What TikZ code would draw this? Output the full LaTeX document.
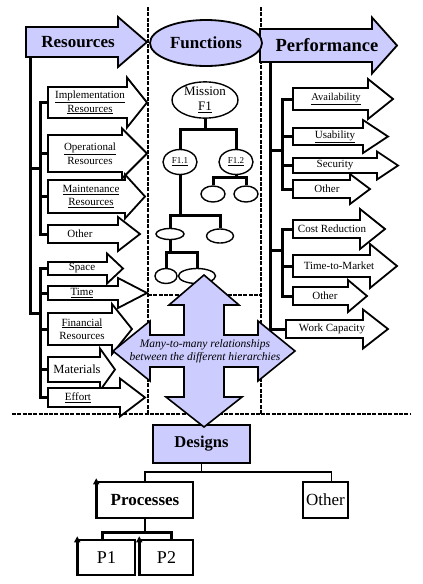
\documentclass[tikz,border=0pt]{standalone}
\usepackage{fontspec}
\setmainfont{Liberation Serif}
\usetikzlibrary{arrows.meta,shapes.geometric}
\definecolor{lav}{RGB}{204,204,255}
\tikzset{
  abox/.style={draw=black,fill=white,line width=1.8pt,line join=miter},
  hbox/.style={draw=black,fill=lav,line width=1.8pt,line join=miter},
  lbl/.style={font=\fontsize{11}{13.5}\selectfont,align=center,inner sep=0pt},
  hdr/.style={font=\bfseries\fontsize{17}{20}\selectfont,inner sep=0pt},
  tree/.style={line width=3pt},
  conn/.style={line width=1.6pt},
  dots/.style={line width=2pt,dash pattern=on 4pt off 1.3pt},
  fell/.style={ellipse,draw,line width=1.4pt,fill=white,inner sep=0pt},
  dbox/.style={draw,line width=1.5pt,fill=white,inner sep=0pt},
  uparr/.style={line width=2.2pt,-{Triangle[length=6pt,width=6pt]}},
}
% name, x0, ytop, ybot, xbase, head half height, xtip, text x, text
\newcommand\barr[9]{%
  \pgfmathsetmacro\ymid{(#3+#4)/2}%
  \draw[abox] (#2,#3) -- (#5,#3) -- (#5,\ymid-#6) -- (#7,\ymid) -- (#5,\ymid+#6) -- (#5,#4) -- (#2,#4) -- cycle;
  \coordinate (#1) at (#2,\ymid);
  \node[lbl] (#1-t) at (#8,\ymid) {#9};
}
\begin{document}
\begin{tikzpicture}[x=1pt,y=-1pt]
\useasboundingbox (0,0) rectangle (423,584);
\fill[white] (0,0) rectangle (423,584);

% dotted separators
\draw[dots] (148,7) -- (148,414);
\draw[dots] (261,7) -- (261,414);
\draw[dots] (148,295) -- (261,295);
\draw[dots] (12,414) -- (410,414);

% ---------- Resources ----------
\draw[hbox] (26,27) -- (118,27) -- (118,17) -- (147,42) -- (118,67) -- (118,57) -- (26,57) -- cycle;
\node[hdr] (res) at (78,42) {Resources};
\coordinate (rb) at (30,57);

\barr{r1}{48}{87}{118}{127}{25}{147}{90}{\underline{Implementation}\\\underline{Resources}}
\barr{r2}{48}{135}{172}{122}{25}{147}{90}{\underline{Operational}\\Resources}
\barr{r3}{48}{180}{213}{125}{22}{145}{91}{\underline{Maintenance}\\\underline{Resources}}
\barr{r4}{48}{225}{243}{118}{17}{140}{80}{Other}
\barr{r5}{48}{262}{275}{107}{15}{123}{82}{Space}
\barr{r6}{48}{286}{300}{118}{15}{147}{82}{\underline{Time}}
\barr{r7}{48}{313}{345}{112}{25}{132}{82}{\underline{Financial}\\Resources}
\barr{r8}{48}{357}{382}{100}{21}{115}{77}{\fontsize{12.5}{14}\selectfont Materials}
\barr{r9}{48}{388}{407}{120}{19}{145}{78}{\underline{Effort}}

\coordinate (j1) at (40,168);
\coordinate (j2) at (40,313);
\draw[tree] (rb) |- (j2);
\draw[tree] (rb |- j1) -- (j1);
\draw[tree] (r1) -| (j1) |- (r4);
\draw[tree] (r2) -- (r2 -| j1);
\draw[tree] (r3) -- (r3 -| j1);
\draw[tree] (r5) -| (j2) |- (r9);
\draw[tree] (r6) -- (r6 -| j2);
\draw[tree] (r7) -- (r7 -| j2);
\draw[tree] (r8) -- (r8 -| j2);

% ---------- Performance ----------
\draw[hbox] (260,29) -- (372,29) -- (372,17.5) -- (397,45.5) -- (372,73.5) -- (372,62) -- (260,62) -- cycle;
\node[hdr,font=\bfseries\fontsize{18.5}{20}\selectfont] (perf) at (327,45.5) {Performance};
\coordinate (pb) at (270,62);

\barr{p1}{293}{88}{110}{368}{20}{393}{336}{\fontsize{10.5}{12}\selectfont\underline{Availability}}
\barr{p2}{293}{128}{145}{363}{16.5}{388}{335}{\underline{Usability}}
\barr{p3}{293}{158}{173}{377}{14}{398}{335}{Security}
\barr{p4}{293}{180}{198}{350}{15}{370}{327}{Other}
\barr{p5}{293}{220}{238}{360}{20}{385}{332}{Cost Reduction}
\barr{p6}{293}{255}{277}{370}{22}{397}{339}{Time-to-Market}
\barr{p7}{293}{287}{305}{348}{16}{367}{325}{Other}
\barr{p8}{286}{320}{338}{363}{19.5}{388}{332}{Work Capacity}

\coordinate (k1) at (282,150);
\coordinate (k2) at (282,250);
\draw[tree] (pb) |- (p8);
\draw[tree] (pb |- k1) -- (k1);
\draw[tree] (pb |- k2) -- (k2);
\draw[tree] (p1) -| (k1) |- (p4);
\draw[tree] (p2) -- (p2 -| k1);
\draw[tree] (p3) -- (p3 -| k1);
\draw[tree] (p5) -| (k2) |- (p7);
\draw[tree] (p6) -- (p6 -| k2);

% ---------- Functions ----------
\node[ellipse,draw,line width=1.8pt,fill=lav,minimum width=112pt,minimum height=46pt,inner sep=0pt,
      font=\bfseries\fontsize{17}{20}\selectfont] (func) at (206,43) {Functions};

\node[fell,minimum width=66pt,minimum height=34pt,align=center,font=\fontsize{13}{15}\selectfont] (mis) at (205,100) {Mission\\\underline{F1}};
\node[fell,minimum width=34pt,minimum height=25pt,font=\fontsize{9}{10}\selectfont] (f11) at (180,162) {\underline{F1.1}};
\node[fell,minimum width=34pt,minimum height=25pt,font=\fontsize{9}{10}\selectfont] (f12) at (236,162) {\underline{F1.2}};
\node[fell,minimum width=24pt,minimum height=16pt] (e1) at (213,194) {};
\node[fell,minimum width=24pt,minimum height=16pt] (e2) at (246,194) {};
\node[fell,minimum width=28pt,minimum height=11pt] (e3) at (170,234) {};
\node[fell,minimum width=27pt,minimum height=14pt] (e4) at (220,236) {};
\node[fell,minimum width=22pt,minimum height=15pt] (e5) at (166,276) {};
\node[fell,minimum width=37pt,minimum height=15pt] (e6) at (197,276) {};

\coordinate (t1) at (205,129);
\coordinate (t2) at (180,215);
\coordinate (t3) at (236,177);
\coordinate (t4) at (170,252);
\draw[tree] (mis.south) -- (t1);
\draw[tree] (f11.north) |- (t1) -| (f12.north);
\draw[tree] (f11.south) -- (t2);
\draw[tree] (e3.north) |- (t2) -| (e4.north);
\draw[tree] (f12.south) -- (t3);
\draw[tree] (e1.north) |- (t3) -| (e2.north);
\draw[tree] (e3.south) -- (t4);
\draw[tree] (e5.north) |- (t4) -| (e6.north);

% ---------- Designs ----------
\node[dbox,fill=lav,minimum width=97pt,minimum height=38pt,font=\bfseries\fontsize{16.5}{20}\selectfont] (des) at (201.5,444) {Designs};
\node[dbox,minimum width=96pt,minimum height=36pt,font=\bfseries\fontsize{17}{20}\selectfont] (proc) at (145,500) {Processes};
\node[dbox,minimum width=45pt,minimum height=36pt,font=\fontsize{17}{20}\selectfont] (oth) at (325.5,500) {Other};
\node[dbox,minimum width=57pt,minimum height=35pt,font=\fontsize{18}{20}\selectfont] (pp1) at (106.5,557.5) {P1};
\node[dbox,minimum width=53pt,minimum height=35pt,font=\fontsize{18}{20}\selectfont] (pp2) at (166.5,557.5) {P2};

\coordinate (dj) at (201.5,472);
\coordinate (pj) at (145,532);
\draw[conn] (des.south) -- (dj);
\draw[conn] (proc.north) |- (dj) -| ([xshift=6pt]oth.north);
\draw[conn] (proc.south) -- (pj);
\draw[tree] ([xshift=-4pt]pp1.north) |- (pj) -| ([xshift=5pt]pp2.north);
\draw[uparr] (proc.south west) -- ([yshift=3pt]proc.north west);
\draw[uparr] (pp1.south west) -- ([yshift=3pt]pp1.north west);
\draw[uparr] (pp2.south west) -- ([yshift=3pt]pp2.north west);

% ---------- many-to-many arrow ----------
\draw[hbox,line width=1.6pt] (204,275) -- (239,305) -- (224,305) -- (224,335) -- (258,335) -- (258,321) -- (295,351)
  -- (258,381) -- (258,367) -- (224,367) -- (224,397) -- (242,397) -- (204,427) -- (166,397) -- (184,397)
  -- (184,367) -- (150,367) -- (150,381) -- (113,351) -- (150,321) -- (150,335) -- (184,335) -- (184,305)
  -- (169,305) -- cycle;
\node[align=center,inner sep=0pt,font=\itshape\fontsize{11.5}{13}\selectfont] (m2m) at (205,351)
  {Many-to-many relationships\\between the different hierarchies};
\end{tikzpicture}
\end{document}
